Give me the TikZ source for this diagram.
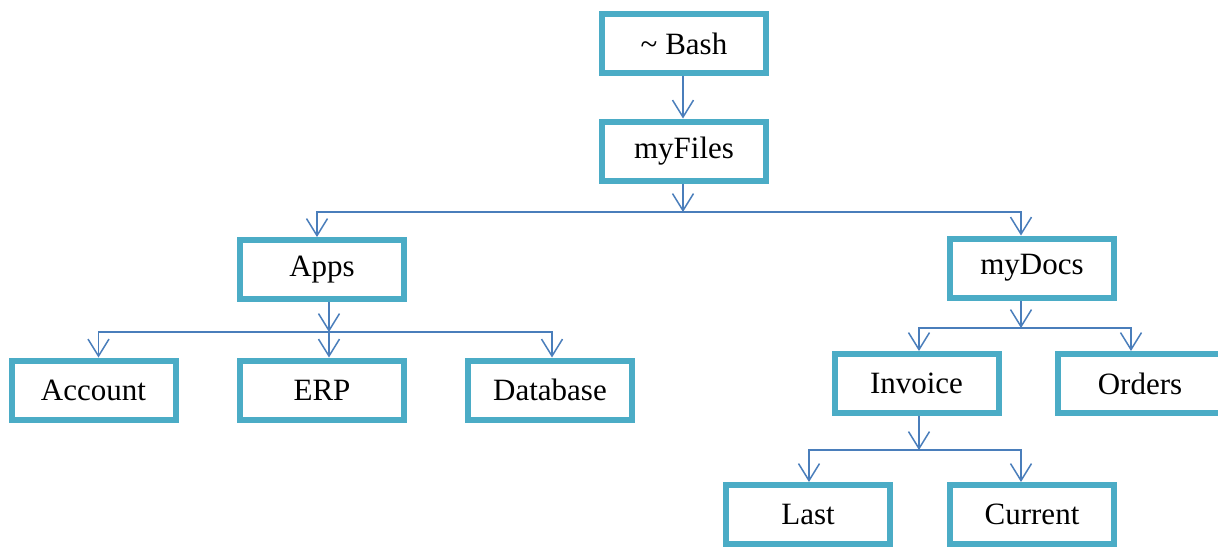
\documentclass[tikz,border=0pt]{standalone}
\usepackage{fontspec}
\setmainfont{Liberation Serif}
\usetikzlibrary{arrows.meta}
\definecolor{BoxTeal}{HTML}{4BACC6}
\definecolor{LinkBlue}{HTML}{4A7EBB}

\begin{document}
\begin{tikzpicture}[x=1pt, y=-1pt,
    dirbox/.style={draw=BoxTeal, line width=6pt, fill=white, minimum width=164pt, minimum height=59pt, inner sep=0pt, font=\fontsize{31}{36}\selectfont},
    link/.style={draw=LinkBlue, line width=1.5pt, -{Straight Barb[length=17pt, width=21pt, line width=1.5pt]}}]
                \useasboundingbox (0,0) rectangle (1218,547);
                \clip (0,0) rectangle (1218,547);
                % Nodes
                \node[dirbox] (bash) at (684,43.5) {\textasciitilde{} Bash};
                \node[dirbox] (files) at (684,151) {myFiles};
                \node[dirbox] (apps) at (322,269.5) {Apps};
                \node[dirbox] (docs) at (1032,268) {myDocs};
                \node[dirbox] (account) at (93.5,390) {Account};
                \node[dirbox] (erp) at (322,390) {ERP};
                \node[dirbox] (database) at (550,390) {Database};
                \node[dirbox] (invoice) at (916.5,383.5) {Invoice};
                \node[dirbox] (orders) at (1140,383.5) {Orders};
                \node[dirbox] (last) at (808,514.5) {Last};
                \node[dirbox] (current) at (1032,514.5) {Current};

                % Junctions
                \coordinate (filesj) at (683,212);
                \coordinate (appsj) at (329,332);
                \coordinate (docsj) at (1021,328);
                \coordinate (invoicej) at (919,450);

                % Edges
                \draw[link] ([xshift=-1pt]bash.south) -- ([xshift=-1pt]files.north);
                \draw[link] ([xshift=-1pt]files.south) -- (filesj);
                \draw[link] (filesj) -| ([xshift=-5pt]apps.north);
                \draw[link] (filesj) -| ([xshift=-11pt]docs.north);
                \draw[link] ([xshift=7pt]apps.south) -- (appsj);
                \draw[link] (appsj) -| ([xshift=5pt]account.north);
                \draw[link] (appsj) -| ([xshift=7pt]erp.north);
                \draw[link] (appsj) -| ([xshift=2pt]database.north);
                \draw[link] ([xshift=-11pt]docs.south) -- (docsj);
                \draw[link] (docsj) -| ([xshift=2.5pt]invoice.north);
                \draw[link] (docsj) -| ([xshift=-9pt]orders.north);
                \draw[link] ([xshift=2.5pt]invoice.south) -- (invoicej);
                \draw[link] (invoicej) -| ([xshift=1pt]last.north);
                \draw[link] (invoicej) -| ([xshift=-11pt]current.north);
\end{tikzpicture}
\end{document}
